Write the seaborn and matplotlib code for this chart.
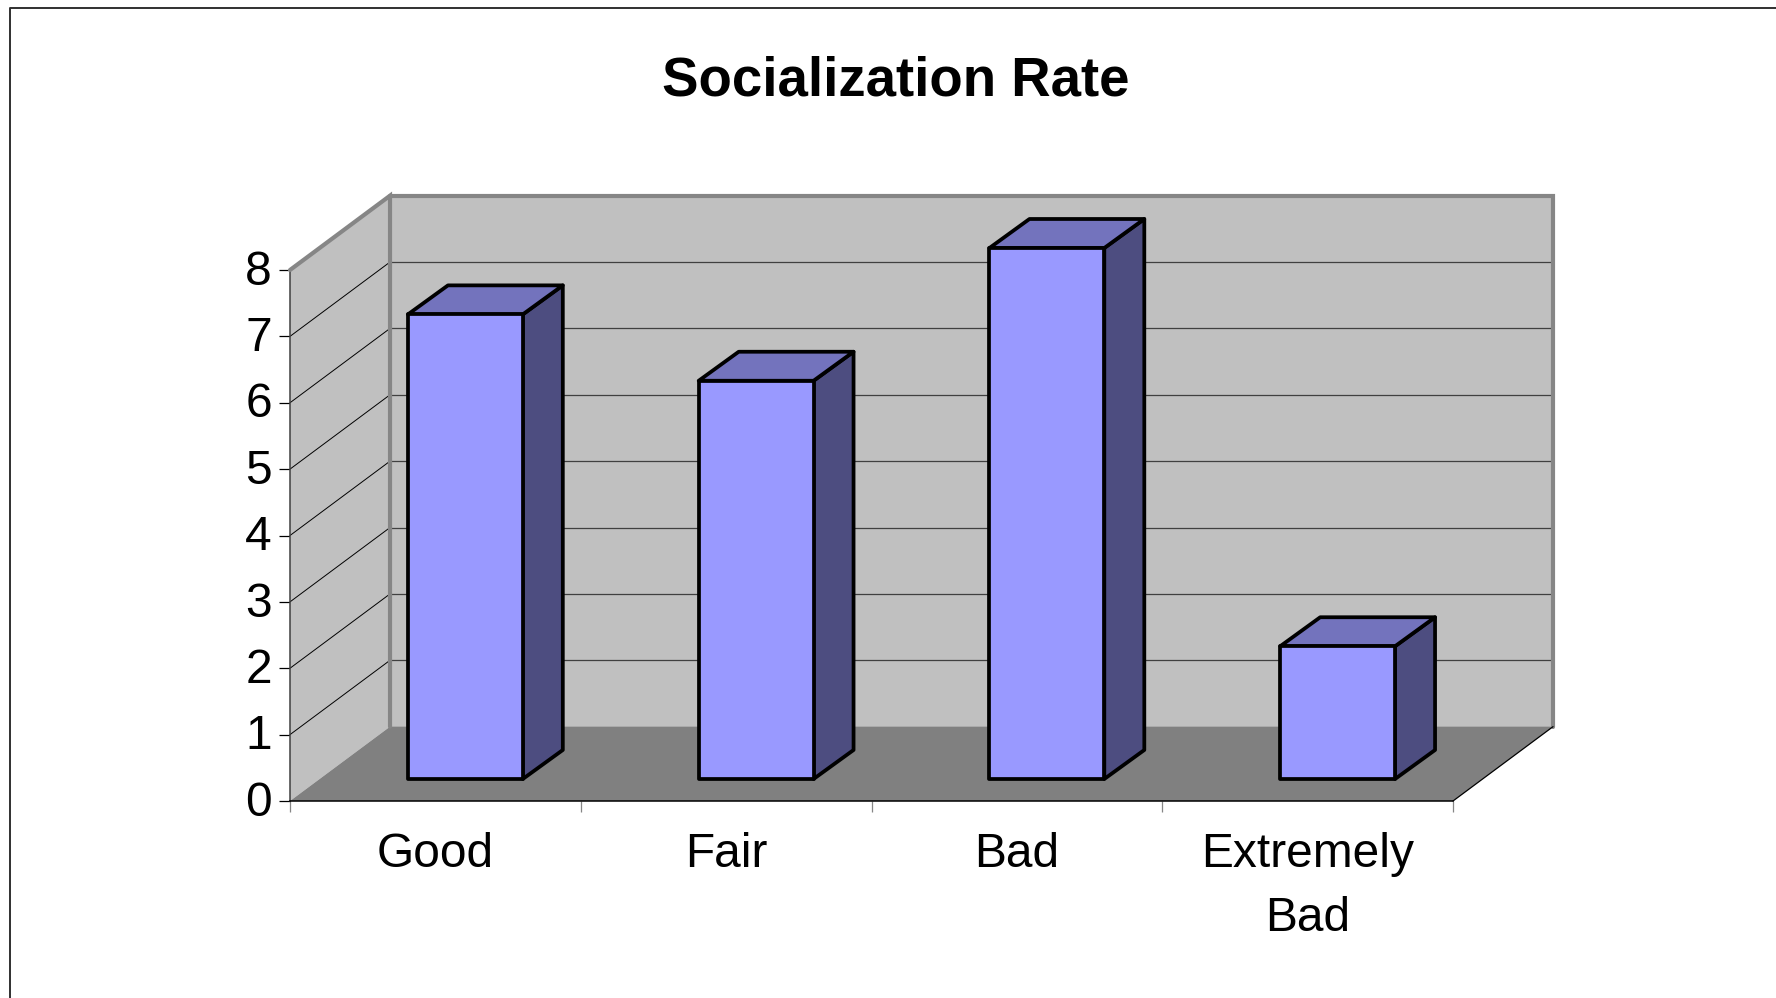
import matplotlib
matplotlib.use("Agg")
import matplotlib.pyplot as plt
from matplotlib.lines import Line2D
from matplotlib.patches import Polygon
from matplotlib.transforms import ScaledTranslation
import seaborn as sns

categories = ["Good", "Fair", "Bad", "Extremely\nBad"]
values = [7, 6, 8, 2]
y_ticks = [0, 1, 2, 3, 4, 5, 6, 7, 8]

W, H = 1776, 998
PLOT_LEFT, PLOT_RIGHT, PLOT_BOTTOM, PLOT_TOP = 290, 1453, 801, 270

# depth of the fake 3D box and of the bars, in data units
WALL_DX, WALL_DY = 0.344, 1.12
BAR_DX, BAR_DY = 0.1376, 0.437
# the bar row sits a little way back from the front edge, in pixels
BAR_SHIFT_X, BAR_SHIFT_Y = 30, 22

FRONT, TOP, SIDE = "#9999FF", "#7373BD", "#4D4D80"
WALL, FLOOR, EDGE = "#C0C0C0", "#808080", "#868686"
BAR_LW = 2.7

sns.set_theme(style="white")
plt.rcParams["font.family"] = ["Liberation Sans", "DejaVu Sans"]

fig = plt.figure(figsize=(W / 100, H / 100), dpi=100, facecolor="white")


def axes_at(left, bottom_px, right, top_px):
    return fig.add_axes([left / W, 1 - bottom_px / H, (right - left) / W, (bottom_px - top_px) / H])


ax = axes_at(PLOT_LEFT, PLOT_BOTTOM, PLOT_RIGHT, PLOT_TOP)
ax.set_xlim(-0.5, len(categories) - 0.5)
ax.set_ylim(y_ticks[0], y_ticks[-1])

x0, x1 = ax.get_xlim()
y0, y1 = ax.get_ylim()
bx0, bx1 = x0 + WALL_DX, x1 + WALL_DX
by0, by1 = y0 + WALL_DY, y1 + WALL_DY

# walls and floor
ax.add_patch(Polygon([(x0, y0), (bx0, by0), (bx0, by1), (x0, y1)], fc=WALL, ec="none", clip_on=False, zorder=1))
ax.add_patch(Polygon([(bx0, by0), (bx1, by0), (bx1, by1), (bx0, by1)], fc=WALL, ec="none", clip_on=False, zorder=1))
ax.add_patch(Polygon([(x0, y0), (x1, y0), (bx1, by0), (bx0, by0)], fc=FLOOR, ec="none", clip_on=False, zorder=1.5))

# gridlines run along the side wall, then across the back wall
for t in y_ticks[1:-1]:
    ax.plot([x0, bx0], [t, t + WALL_DY], color="black", lw=0.7, clip_on=False, zorder=2)
    ax.plot([bx0, bx1], [t + WALL_DY, t + WALL_DY], color="#404040", lw=0.9, clip_on=False, zorder=2)

ax.plot([x0, bx0, bx0], [y1, by1, by0], color=EDGE, lw=3, clip_on=False, zorder=3, solid_joinstyle="miter")
ax.plot([bx0, bx1, bx1], [by1, by1, by0], color=EDGE, lw=3, clip_on=False, zorder=3, solid_joinstyle="miter")
ax.plot([x1, bx1], [y0, by0], color="black", lw=0.9, clip_on=False, zorder=3)

ax.patch.set_visible(False)
for side in ["top", "right"]:
    ax.spines[side].set_visible(False)
ax.spines["left"].set_color("#404040")
ax.spines["left"].set_linewidth(1.1)
ax.spines["bottom"].set_color("black")
ax.spines["bottom"].set_linewidth(1.1)

ax.set_yticks(y_ticks)
ax.tick_params(axis="y", length=8, width=0.9, color="black", pad=5, labelsize=34.5, labelcolor="black", left=True)
nudge_up = ScaledTranslation(0, 2 / 72, fig.dpi_scale_trans)
for label in ax.get_yticklabels():
    label.set_transform(label.get_transform() + nudge_up)

ax.set_xticks(range(len(categories)))
ax.set_xticklabels(categories, linespacing=1.53)
ax.tick_params(axis="x", which="major", length=0, pad=22.5, labelsize=34.5, labelcolor="black")
ax.set_xticks([x0 + i for i in range(len(categories) + 1)], minor=True)
ax.tick_params(axis="x", which="minor", length=8, width=0.9, color=EDGE, bottom=True)

# bars, drawn on a plane shifted back from the front edge
ax_bars = axes_at(PLOT_LEFT + BAR_SHIFT_X, PLOT_BOTTOM - BAR_SHIFT_Y, PLOT_RIGHT + BAR_SHIFT_X, PLOT_TOP - BAR_SHIFT_Y)
sns.barplot(x=categories, y=values, ax=ax_bars, color=FRONT, saturation=1, width=0.395,
            edgecolor="black", linewidth=BAR_LW, zorder=3)
ax_bars.set_xlim(x0, x1)
ax_bars.set_ylim(y0, y1)
ax_bars.axis("off")
ax_bars.patch.set_visible(False)

for bar in list(ax_bars.patches):
    bar.set_joinstyle("round")
    bar.set_clip_on(False)
    left, right = bar.get_x(), bar.get_x() + bar.get_width()
    top = bar.get_height()
    ax_bars.add_patch(Polygon(
        [(right, 0), (right + BAR_DX, BAR_DY), (right + BAR_DX, top + BAR_DY), (right, top)],
        fc=SIDE, ec="black", lw=BAR_LW, clip_on=False, zorder=2, joinstyle="round"))
    ax_bars.add_patch(Polygon(
        [(left, top), (right, top), (right + BAR_DX, top + BAR_DY), (left + BAR_DX, top + BAR_DY)],
        fc=TOP, ec="black", lw=BAR_LW, clip_on=False, zorder=2, joinstyle="round"))

fig.text(896 / W, 1 - 82 / H, "Socialization Rate", ha="center", va="center", fontsize=39.3, fontweight="bold", color="black")

# page frame, open to the right and bottom as in the source slide
fig.add_artist(Line2D([10 / W, 10 / W, 1], [0, 1 - 8 / H, 1 - 8 / H], color="#303030", lw=1.4))

fig.savefig("out.png", dpi=100)
